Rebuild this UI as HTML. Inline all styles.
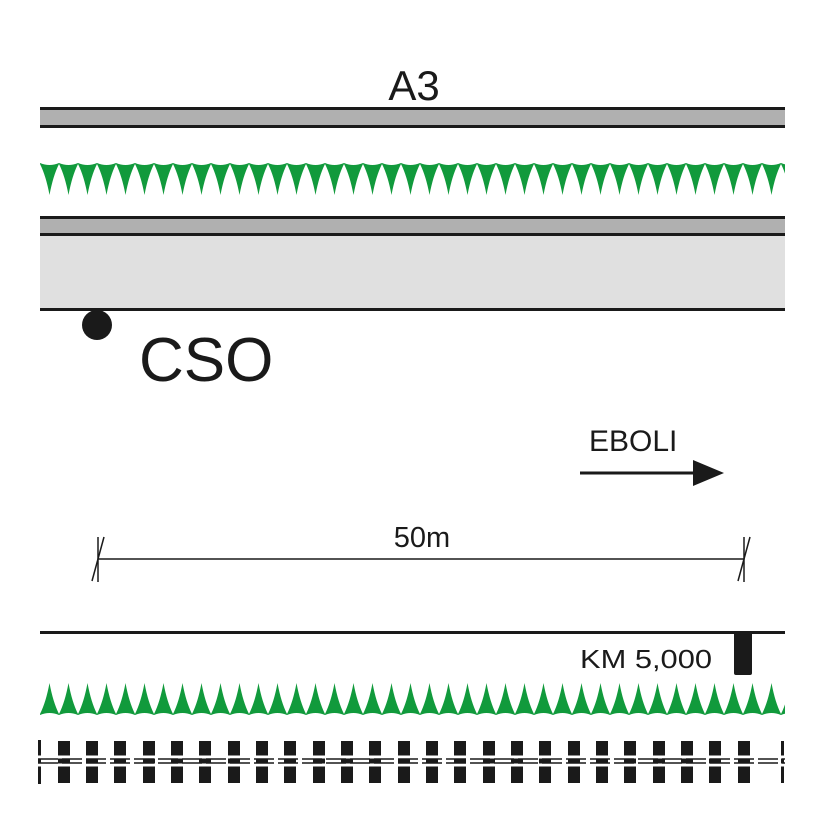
<!DOCTYPE html>
<html><head><style>html,body{margin:0;padding:0;background:#fff}svg{display:block}</style></head>
<body>
<svg width="826" height="826" viewBox="0 0 826 826" xmlns="http://www.w3.org/2000/svg" font-family="Liberation Sans, sans-serif">
<defs>
<pattern id="td" x="40" y="160" width="19" height="40" patternUnits="userSpaceOnUse">
<path d="M0,3 Q9.5,7 19,3 L19,4 Q13,16 9.5,35 Q6,16 0,4 Z" fill="#119a3c"/>
</pattern>
<pattern id="tu" x="40" y="680" width="19" height="40" patternUnits="userSpaceOnUse">
<path d="M0,35 Q9.5,31 19,35 L19,34 Q13,22 9.5,3 Q6,22 0,34 Z" fill="#119a3c"/>
</pattern>
</defs>
<text x="414" y="100" font-size="42" text-anchor="middle" fill="#1a1a1a">A3</text>
<rect x="40" y="109" width="745" height="17" fill="#b0b0b0"/>
<rect x="40" y="107" width="745" height="3" fill="#1a1a1a"/>
<rect x="40" y="125" width="745" height="3" fill="#1a1a1a"/>
<rect x="40" y="160" width="745" height="40" fill="url(#td)"/>
<rect x="40" y="218" width="745" height="17" fill="#b0b0b0"/>
<rect x="40" y="235" width="745" height="75" fill="#e0e0e0"/>
<rect x="40" y="216" width="745" height="3" fill="#1a1a1a"/>
<rect x="40" y="233" width="745" height="3" fill="#1a1a1a"/>
<rect x="40" y="308" width="745" height="3" fill="#1a1a1a"/>
<circle cx="97" cy="325" r="15" fill="#1a1a1a"/>
<text x="139" y="381" font-size="62" fill="#1a1a1a">CSO</text>
<text x="589" y="451" font-size="30" fill="#1a1a1a">EBOLI</text>
<line x1="580" y1="473" x2="700" y2="473" stroke="#1a1a1a" stroke-width="3"/>
<path d="M693,460 L724,473 L693,486 Z" fill="#1a1a1a"/>
<text x="422" y="547" font-size="29" text-anchor="middle" fill="#1a1a1a">50m</text>
<line x1="98" y1="559" x2="744" y2="559" stroke="#1a1a1a" stroke-width="1.5"/>
<line x1="98" y1="537" x2="98" y2="582" stroke="#1a1a1a" stroke-width="1.5"/>
<line x1="92" y1="581" x2="104" y2="537" stroke="#1a1a1a" stroke-width="1.5"/>
<line x1="744" y1="537" x2="744" y2="582" stroke="#1a1a1a" stroke-width="1.5"/>
<line x1="738" y1="581" x2="750" y2="537" stroke="#1a1a1a" stroke-width="1.5"/>
<rect x="40" y="631" width="745" height="3" fill="#1a1a1a"/>
<text x="580" y="668" font-size="26" textLength="132" lengthAdjust="spacingAndGlyphs" fill="#1a1a1a">KM 5,000</text>
<rect x="734" y="632" width="18" height="43" rx="2" fill="#1a1a1a"/>
<rect x="40" y="680" width="745" height="40" fill="url(#tu)"/>
<g fill="#1a1a1a">
<rect x="38" y="740" width="3" height="44"/>
<rect x="58" y="741" width="12" height="42"/><rect x="86" y="741" width="12" height="42"/><rect x="114" y="741" width="12" height="42"/><rect x="143" y="741" width="12" height="42"/><rect x="171" y="741" width="12" height="42"/><rect x="199" y="741" width="12" height="42"/><rect x="228" y="741" width="12" height="42"/><rect x="256" y="741" width="12" height="42"/><rect x="284" y="741" width="12" height="42"/><rect x="313" y="741" width="12" height="42"/><rect x="341" y="741" width="12" height="42"/><rect x="369" y="741" width="12" height="42"/><rect x="398" y="741" width="12" height="42"/><rect x="426" y="741" width="12" height="42"/><rect x="454" y="741" width="12" height="42"/><rect x="483" y="741" width="12" height="42"/><rect x="511" y="741" width="12" height="42"/><rect x="539" y="741" width="12" height="42"/><rect x="568" y="741" width="12" height="42"/><rect x="596" y="741" width="12" height="42"/><rect x="624" y="741" width="12" height="42"/><rect x="653" y="741" width="12" height="42"/><rect x="681" y="741" width="12" height="42"/><rect x="709" y="741" width="12" height="42"/><rect x="738" y="741" width="12" height="42"/>
<rect x="781" y="741" width="3" height="42"/>
</g>
<line x1="38" y1="757" x2="785" y2="757" stroke="#fff" stroke-width="3"/>
<line x1="38" y1="765" x2="785" y2="765" stroke="#fff" stroke-width="3"/>
<line x1="38" y1="759" x2="785" y2="759" stroke="#1a1a1a" stroke-width="1.5" stroke-dasharray="20,4"/>
<line x1="38" y1="763" x2="785" y2="763" stroke="#1a1a1a" stroke-width="1.5" stroke-dasharray="20,4"/>
</svg>
</body></html>
